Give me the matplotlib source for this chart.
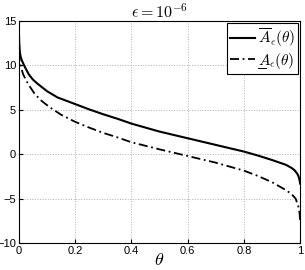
import matplotlib
matplotlib.use("Agg")
import matplotlib.pyplot as plt
from matplotlib.lines import Line2D

matplotlib.rcParams['mathtext.fontset'] = 'cm'
matplotlib.rcParams['font.family'] = ['Liberation Sans', 'DejaVu Sans']

# values
theta_up = [0, 0.001, 0.003, 0.006, 0.01, 0.02, 0.035, 0.05, 0.066, 0.1, 0.137,
            0.2, 0.25, 0.3, 0.35, 0.4, 0.5, 0.6, 0.7, 0.8, 0.85, 0.9, 0.95,
            0.97, 0.98, 0.99, 0.995, 0.998, 1.0]
a_up = [13.8, 12.6, 11.6, 11.0, 10.6, 9.9, 9.0, 8.4, 7.95, 7.1, 6.4,
        5.65, 5.05, 4.5, 4.0, 3.45, 2.55, 1.8, 1.05, 0.3, -0.15, -0.65, -1.2,
        -1.55, -1.8, -2.2, -2.55, -2.9, -3.3]

theta_lo = [0, 0.001, 0.003, 0.006, 0.015, 0.033, 0.054, 0.077, 0.107, 0.15,
            0.2, 0.25, 0.3, 0.35, 0.4, 0.5, 0.6, 0.7, 0.8, 0.85, 0.9, 0.95,
            0.97, 0.984, 0.993, 0.998, 1.0]
a_lo = [11.5, 10.9, 10.4, 10.0, 9.0, 7.9, 6.9, 6.1, 5.35, 4.45,
        3.65, 3.0, 2.4, 1.9, 1.35, 0.55, -0.2, -0.95, -1.85, -2.45, -3.15, -4.05,
        -4.5, -5.0, -5.8, -6.6, -7.5]

x_ticks = [0, 0.2, 0.4, 0.6, 0.8, 1]
y_ticks = [-10, -5, 0, 5, 10, 15]

fig = plt.figure(figsize=(3.05, 2.70), dpi=100)
ax = fig.add_axes([0.062, 0.10, 0.922, 0.822])

ax.plot(theta_up, a_up, color='black', lw=1.5, ls='-',
        label=r'$\overline{A}_\epsilon(\theta)$')
ax.plot(theta_lo, a_lo, color='black', lw=1.3, ls=(0, (5, 2, 1, 2)),
        label=r'$A_\epsilon(\theta)$')

ax.set_xlim(0, 1)
ax.set_ylim(-10, 15)
ax.set_xticks(x_ticks)
ax.set_xticklabels(['0', '0.2', '0.4', '0.6', '0.8', '1'])
ax.set_yticks(y_ticks)
ax.tick_params(direction='in', labelsize=8, length=3, pad=2)
ax.grid(True, ls=':', color='#b0b0b0', lw=0.7)
for s in ax.spines.values():
    s.set_linewidth(0.8)

ax.set_title(r'$\epsilon = 10^{-6}$', fontsize=11.5, pad=2)
ax.set_xlabel(r'$\theta$', fontsize=13, labelpad=-3)

leg = ax.legend(loc='upper right', fontsize=11, fancybox=False,
                edgecolor='black', framealpha=1, handlelength=1.6,
                handletextpad=0.2, borderpad=0.2, labelspacing=0.1,
                borderaxespad=0.15)
leg.get_frame().set_linewidth(0.8)

# mathtext has no \underline: draw the bar under the A by hand
fig.canvas.draw()
bb = leg.get_texts()[1].get_window_extent()
x0 = bb.x0 + 0.01 * bb.width
x1 = bb.x0 + 0.24 * bb.width
yb = bb.y0 + 0.12 * bb.height
fig.add_artist(Line2D([x0 / fig.bbox.width, x1 / fig.bbox.width],
                      [yb / fig.bbox.height, yb / fig.bbox.height],
                      transform=fig.transFigure, color='black', lw=0.7))

fig.savefig('out.png', dpi=100)
